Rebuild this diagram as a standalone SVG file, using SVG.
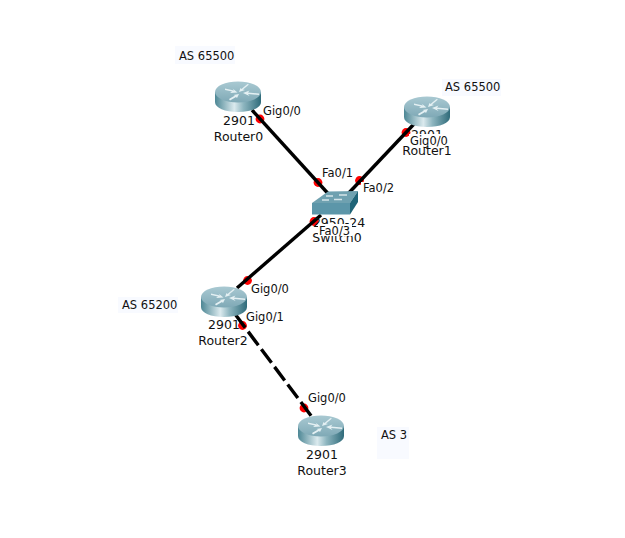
<svg xmlns="http://www.w3.org/2000/svg" width="625" height="538" viewBox="0 0 625 538">
<style>
text{font-family:"DejaVu Sans","Liberation Sans",sans-serif;font-size:11.5px;fill:#111}
.n{font-size:12.5px;text-anchor:middle}
.c{stroke:#000;stroke-width:3.4;fill:none}
.d{stroke-dasharray:17 5}
.p{fill:#f00}
.w{fill:#fff}
.as{fill:#f8faff}
</style>
<defs>
<linearGradient id="side" x1="0" x2="1" y1="0" y2="0">
<stop offset="0" stop-color="#4d8795"/><stop offset=".42" stop-color="#dbeaee"/><stop offset=".62" stop-color="#8db5bf"/><stop offset="1" stop-color="#2f6b7a"/>
</linearGradient>
<linearGradient id="top" x1="0" x2="0" y1="0" y2="1">
<stop offset="0" stop-color="#a9c9d2"/><stop offset="1" stop-color="#7fa9b6"/>
</linearGradient>
<symbol id="router" overflow="visible">
<path d="M0 10V20C0 26 10 30 23 30S46 26 46 20V10Z" fill="url(#side)"/>
<ellipse cx="23" cy="10" rx="23" ry="10.5" fill="url(#top)"/>
<path d="M10 6.5L19 8.5L17.5 6.5L22.5 10.5L15 11L17 9.5L10 8ZM34 2.5L28 7.5L30 8L24 10L25.500 6L26.500 7L32.500 2ZM44 13L33 12L34.500 14L28 11L34.500 8.500L33 10.500L44 11.500ZM14 17L20 13.500L18.500 13L24 12L22 16L21 15L15 18.500Z" fill="#e4f0f3"/>
</symbol>
</defs>
<g id="annotations">
<rect class="as" x="175" y="46" width="60" height="18"/><text x="179" y="60">AS 65500</text>
<rect class="as" x="442" y="79" width="59" height="17"/><text x="445" y="91">AS 65500</text>
<rect class="as" x="118" y="297" width="60" height="16"/><text x="122" y="309">AS 65200</text>
<rect class="as" x="377" y="427" width="32" height="32"/><text x="381" y="439">AS 3</text>
</g>
<g id="ports">
<circle class="p" cx="260" cy="119" r="4.400"/><circle class="p" cx="318" cy="182.500" r="4.400"/>
<circle class="p" cx="359.500" cy="180.500" r="4.400"/><circle class="p" cx="406" cy="132.500" r="4.400"/>
<circle class="p" cx="314" cy="221.500" r="4.400"/><circle class="p" cx="247.500" cy="280.500" r="4.400"/>
<circle class="p" cx="242.500" cy="325.500" r="4.400"/><circle class="p" cx="304" cy="408" r="4.400"/>
</g>
<g id="connectors">
<path class="c" d="M252 110L333 199"/>
<path class="c" d="M414 124L345 197"/>
<path class="c" d="M321 215L237 288"/>
<path class="c d" d="M235 314L312 417"/>
</g>
<g id="router0"><use href="#router" x="215" y="82"/><text class="n" x="239" y="125">2901</text><text class="n" x="238.500" y="141">Router0</text></g>
<g id="router1"><use href="#router" x="404" y="97"/><text class="n" x="427" y="139">2901</text><text class="n" x="427" y="155">Router1</text></g>
<g id="switch0">
<path d="M312 203L328 191.500L358 191L350 203Z" fill="#6fa1b0"/>
<path d="M312 203H350V214.500H312Z" fill="#5c96a9"/>
<path d="M350 203L358 191V202L350 214.500Z" fill="#1f6478"/>
<path d="M326 196H333M339 195H347M322 200H329M334 199.500H342" stroke="#d5e5e9" stroke-width="1.400"/>
<text class="n" x="339" y="227">2950-24</text><text class="n" x="337" y="242">Switch0</text>
</g>
<g id="router2"><use href="#router" x="201" y="287"/><text class="n" x="224" y="329">2901</text><text class="n" x="223" y="345">Router2</text></g>
<g id="router3"><use href="#router" x="298" y="416"/><text class="n" x="322" y="459">2901</text><text class="n" x="322" y="475">Router3</text></g>
<g id="labels">
<text x="263" y="115">Gig0/0</text>
<text x="322" y="177">Fa0/1</text>
<rect class="w" x="361" y="182" width="34" height="14"/><text x="363" y="192">Fa0/2</text>
<rect class="w" x="409" y="134" width="40" height="12"/><text x="410" y="145">Gig0/0</text>
<rect class="w" x="318" y="224" width="34" height="12"/><text x="319" y="235">Fa0/3</text>
<text x="251" y="293">Gig0/0</text>
<text x="246" y="321">Gig0/1</text>
<text x="308" y="402">Gig0/0</text>
</g>
</svg>
